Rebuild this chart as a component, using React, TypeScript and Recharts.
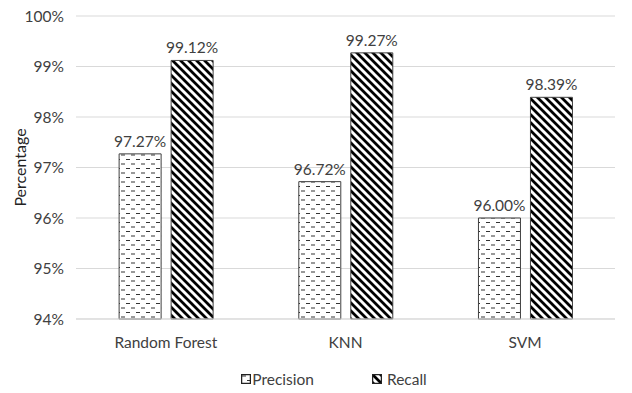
import React from "react";
import { BarChart, Bar, XAxis, YAxis, CartesianGrid, Legend, LabelList } from "recharts";

const models = ["Random Forest", "KNN", "SVM"];
const precision = [97.27, 96.72, 96.0];
const recall = [99.12, 99.27, 98.39];
const yTicks = [94, 95, 96, 97, 98, 99, 100];

const data = models.map((name, i) => ({ name, precision: precision[i], recall: recall[i] }));

const FONT = "Lato, 'Open Sans', sans-serif";
const TEXT = "#404040";
const FS = 15.5;

const pct2 = (v: any) => `${Number(v).toFixed(2)}%`;

const LegendContent = () => (
  <div style={{ display: "flex", justifyContent: "center", gap: 58, fontFamily: FONT, fontSize: FS, color: TEXT, paddingLeft: 36 }}>
    <div style={{ display: "flex", alignItems: "center" }}>
      <svg width={10} height={10} style={{ marginRight: 1 }}>
        <rect x={0.5} y={0.5} width={9} height={9} fill="url(#dashFill)" stroke="#222" strokeWidth={1.5} />
      </svg>
      <span>Precision</span>
    </div>
    <div style={{ display: "flex", alignItems: "center" }}>
      <svg width={10} height={10} style={{ marginRight: 5 }}>
        <rect x={0.5} y={0.5} width={9} height={9} fill="url(#diagFill)" stroke="#222" strokeWidth={1.5} />
      </svg>
      <span>Recall</span>
    </div>
  </div>
);

export default function App() {
  return (
    <div style={{ position: "absolute", left: 0, top: 0, width: 632, height: 393, background: "#fff" }}>
      <BarChart
        width={632}
        height={393}
        data={data}
        margin={{ top: 16, right: 17, bottom: 44, left: 16 }}
        barCategoryGap="24%"
        barGap={10}
      >
        <defs>
          <pattern id="dashFill" width={10} height={9} patternUnits="userSpaceOnUse">
            <rect width={10} height={9} fill="#fff" />
            <line x1={1} y1={2} x2={5} y2={2} stroke="#333" strokeWidth={1} />
            <line x1={6} y1={6.5} x2={10} y2={6.5} stroke="#333" strokeWidth={1} />
          </pattern>
          <pattern id="diagFill" width={8} height={8} patternUnits="userSpaceOnUse">
            <rect width={8} height={8} fill="#fff" />
            <path d="M-2,-2 L10,10 M-2,6 L2,10 M6,-2 L10,2" stroke="#000" strokeWidth={2.8} />
          </pattern>
        </defs>
        <CartesianGrid vertical={false} stroke="#d9d9d9" />
        <XAxis
          dataKey="name"
          axisLine={{ stroke: "#d9d9d9" }}
          tickLine={false}
          tick={{ fill: TEXT, fontSize: FS, fontFamily: FONT }}
          tickMargin={12}
          height={30}
        />
        <YAxis
          domain={[94, 100]}
          ticks={yTicks}
          tickFormatter={(v: number) => `${v}%`}
          axisLine={false}
          tickLine={false}
          tick={{ fill: TEXT, fontSize: FS, fontFamily: FONT }}
          tickMargin={6}
          width={60}
          label={{ value: "Percentage", angle: -90, position: "insideLeft", offset: 4, style: { fill: "#222", fontSize: 16, fontFamily: FONT, textAnchor: "middle" } }}
        />
        <Legend
          layout="horizontal"
          verticalAlign="middle"
          align="center"
          wrapperStyle={{ top: 370, left: 0, width: 632 }}
          content={LegendContent}
        />
        <Bar dataKey="precision" name="Precision" fill="url(#dashFill)" stroke="#404040" strokeWidth={1} isAnimationActive={false}>
          <LabelList dataKey="precision" position="top" offset={7} formatter={pct2} style={{ fill: TEXT, fontSize: FS, fontFamily: FONT }} />
        </Bar>
        <Bar dataKey="recall" name="Recall" fill="url(#diagFill)" stroke="#404040" strokeWidth={1} isAnimationActive={false}>
          <LabelList dataKey="recall" position="top" offset={7} formatter={pct2} style={{ fill: TEXT, fontSize: FS, fontFamily: FONT }} />
        </Bar>
      </BarChart>
    </div>
  );
}
